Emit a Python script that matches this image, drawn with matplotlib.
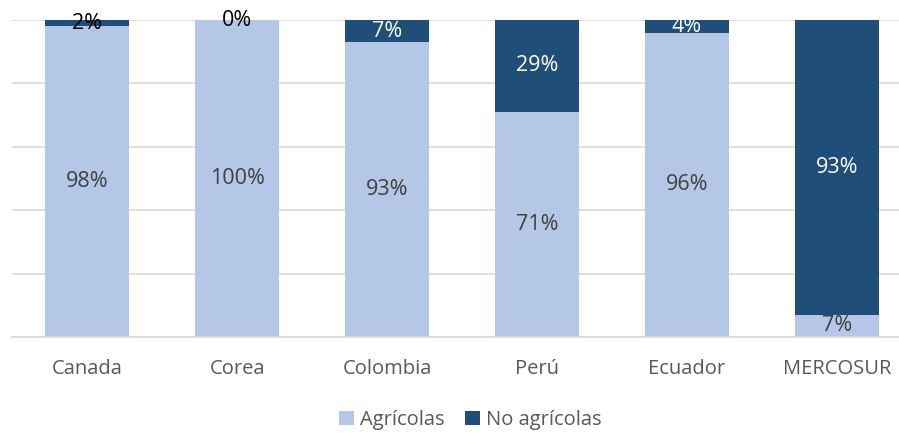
import numpy as np
import matplotlib.pyplot as plt

plt.rcParams['font.family'] = ['Open Sans', 'DejaVu Sans']

categories = ["Canada", "Corea", "Colombia", "Perú", "Ecuador", "MERCOSUR"]
agricolas = [98, 100, 93, 71, 96, 7]
no_agricolas = [2, 0, 7, 29, 4, 93]

light = "#B4C7E7"
dark = "#1F4E79"

fig = plt.figure(figsize=(8.99, 4.33), dpi=100)
ax = fig.add_axes([12/899, 1 - 337/433, 887/899, 317/433])

x = np.arange(len(categories))
w = 0.56
ax.bar(x, agricolas, w, color=light, label="Agrícolas", zorder=2)
ax.bar(x, no_agricolas, w, bottom=agricolas, color=dark, label="No agrícolas", zorder=2)

for i in range(len(categories)):
    a, n = agricolas[i], no_agricolas[i]
    ax.text(x[i], a / 2, f"{a}%", ha="center", va="center", fontsize=15.5, color="#404040", zorder=3)
    col = "white" if n >= 4 else "black"
    ax.text(x[i], a + n / 2, f"{n}%", ha="center", va="center", fontsize=15.5, color=col, zorder=3)

ax.set_xlim(-0.5, 5.413)
ax.set_ylim(0, 100)
ax.set_yticks([0, 20, 40, 60, 80, 100])
ax.yaxis.grid(True, color="#D9D9D9", lw=1.2, zorder=0)
ax.tick_params(left=False, labelleft=False, bottom=False)
for s in ["top", "right", "left"]:
    ax.spines[s].set_visible(False)
ax.spines["bottom"].set_color("#D9D9D9")
ax.spines["bottom"].set_linewidth(1.2)
ax.set_xticks(x)
ax.set_xticklabels(categories, fontsize=14.5, color="#595959")
ax.tick_params(axis="x", pad=12)

fig.legend(loc="center", bbox_to_anchor=(470/899, 1 - 420/433), ncol=2, frameon=False,
           fontsize=14.5, handlelength=0.75, handleheight=0.75, columnspacing=1.0,
           handletextpad=0.3, labelcolor="#595959")

fig.savefig("out.png", dpi=100)
